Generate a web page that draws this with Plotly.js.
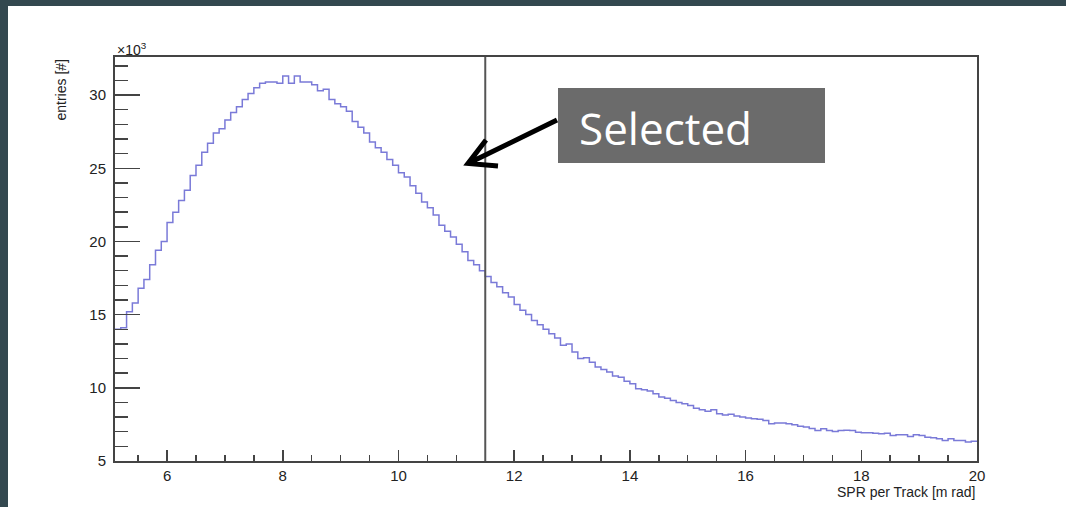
<!DOCTYPE html>
<html>
<head>
<meta charset="utf-8">
<script src="https://cdn.plot.ly/plotly-3.0.1.min.js"></script>
<style>
  html, body { margin: 0; padding: 0; background: #33484f; width: 1066px; height: 507px; overflow: hidden; }
  #chart { position: absolute; left: 8px; top: 6px; width: 1058px; height: 501px; }
</style>
</head>
<body>
<div id="chart"></div>
<script>
// Histogram definition: first bin low edge and bin width (SPR per Track, m rad)
const binLo = 5.1;
const binWidth = 0.1;
// Entries per bin, in units of 10^3
const entriesK = [
  14.0, 14.1, 15.2, 15.8, 16.8, 17.4, 18.4, 19.4, 20.0, 21.3,
  22.0, 22.8, 23.5, 24.5, 25.2, 26.1, 26.7, 27.4, 27.7, 28.3,
  28.8, 29.2, 29.7, 30.1, 30.5, 30.8, 30.9, 30.9, 30.8, 31.3,
  30.8, 31.3, 30.9, 30.9, 30.7, 30.3, 30.4, 29.7, 29.4, 29.2,
  28.9, 28.2, 27.8, 27.4, 26.8, 26.4, 26.1, 25.6, 25.2, 24.7,
  24.4, 23.8, 23.3, 22.7, 22.3, 21.8, 21.1, 20.7, 20.3, 19.8,
  19.3, 18.7, 18.4, 18.0, 17.6, 17.2, 16.9, 16.5, 16.2, 15.7,
  15.3, 15.0, 14.6, 14.3, 14.0, 13.7, 13.4, 12.9, 13.0, 12.45,
  12.0, 12.05, 11.75, 11.42, 11.25, 11.08, 10.8, 10.73, 10.45, 10.28,
  9.94, 9.87, 9.78, 9.6, 9.37, 9.28, 9.14, 9.0, 8.91, 8.8,
  8.6, 8.5, 8.4, 8.5, 8.23, 8.15, 8.2, 8.07, 8.0, 7.93,
  7.89, 7.85, 7.77, 7.55, 7.6, 7.6, 7.55, 7.47, 7.38, 7.32,
  7.22, 7.09, 7.2, 7.09, 7.02, 7.09, 7.1, 7.09, 6.97, 6.93,
  6.93, 6.9, 6.86, 6.9, 6.74, 6.8, 6.8, 6.67, 6.8, 6.74,
  6.63, 6.58, 6.52, 6.4, 6.52, 6.4, 6.4, 6.29, 6.35
];
// Selection cut on SPR per Track
const cutValue = 11.5;
// Axis ticks
const xTickVals = [6, 8, 10, 12, 14, 16, 18, 20];
const xTickText = ["6", "8", "10", "12", "14", "16", "18", "20"];
const yTickVals = [5, 10, 15, 20, 25, 30];
const yTickText = ["5", "10", "15", "20", "25", "30"];
const xTitle = "SPR per Track [m rad]";
const yTitle = "entries [#]";
const calloutText = "Selected";

// Build step outline from bin edges
const xs = [], ys = [];
for (let i = 0; i < entriesK.length; i++) {
  xs.push(+(binLo + i * binWidth).toFixed(4));
  ys.push(entriesK[i]);
}
xs.push(+(binLo + entriesK.length * binWidth).toFixed(4));
ys.push(entriesK[entriesK.length - 1]);

const axisColor = '#444';
const tickFont = { family: 'Liberation Sans, Arial, sans-serif', size: 15, color: '#222' };

// plot area in page px: x 115..977, y 57..461
const PX = p => (p - 115) / 862;
const PY = p => (461 - p) / 404;

const trace = {
  type: 'scatter', mode: 'lines',
  x: xs, y: ys,
  line: { shape: 'hv', color: 'rgb(122,122,216)', width: 1.5 },
  hoverinfo: 'x+y', showlegend: false
};

const arrowPath =
  'M' + PX(557) + ',' + PY(120) + ' L' + PX(468) + ',' + PY(163.5) +
  ' M' + PX(486) + ',' + PY(140) + ' L' + PX(468) + ',' + PY(163.5) +
  ' L' + PX(498) + ',' + PY(166);

const layout = {
  width: 1058, height: 501,
  margin: { l: 107, r: 89, t: 51, b: 46, pad: 0 },
  paper_bgcolor: '#ffffff', plot_bgcolor: '#ffffff',
  showlegend: false,
  xaxis: {
    range: [binLo, 20], showgrid: false, zeroline: false,
    showline: true, linecolor: axisColor, linewidth: 2, mirror: true,
    ticks: 'inside', ticklen: 11, tickwidth: 1.5, tickcolor: axisColor,
    tickvals: xTickVals, ticktext: xTickText, tickfont: tickFont,
    minor: { dtick: 0.5, tick0: 0, ticks: 'inside', ticklen: 6, tickwidth: 1.5, tickcolor: axisColor }
  },
  yaxis: {
    range: [5, 32.6], showgrid: false, zeroline: false,
    showline: true, linecolor: axisColor, linewidth: 2, mirror: true,
    ticks: 'inside', ticklen: 25, tickwidth: 1.5, tickcolor: axisColor,
    tickvals: yTickVals, ticktext: yTickText, tickfont: tickFont,
    ticklabelstandoff: 4,
    minor: { dtick: 1, tick0: 0, ticks: 'inside', ticklen: 13, tickwidth: 1.5, tickcolor: axisColor }
  },
  shapes: [
    { type: 'line', xref: 'x', yref: 'paper', x0: cutValue, x1: cutValue, y0: 0, y1: 1,
      line: { color: '#555', width: 2 } },
    { type: 'rect', xref: 'paper', yref: 'paper', x0: PX(558), x1: PX(825), y0: PY(163), y1: PY(88),
      fillcolor: '#6b6b6b', line: { width: 0 } },
    { type: 'path', xref: 'paper', yref: 'paper', path: arrowPath,
      line: { color: '#000', width: 5 } }
  ],
  annotations: [
    { xref: 'paper', yref: 'paper', x: PX(577), y: PY(128), xanchor: 'left', yanchor: 'middle',
      text: calloutText, showarrow: false,
      font: { family: 'Open Sans, Noto Sans, sans-serif', size: 44, color: '#ffffff' } },
    { xref: 'paper', yref: 'paper', x: 1, y: PY(492), xanchor: 'right', yanchor: 'middle',
      text: xTitle, showarrow: false, font: { family: 'Liberation Sans, Arial, sans-serif', size: 14, color: '#222' } },
    { xref: 'paper', yref: 'paper', x: PX(60), y: 1, xanchor: 'center', yanchor: 'top', textangle: -90,
      text: yTitle, showarrow: false, font: { family: 'Liberation Sans, Arial, sans-serif', size: 14, color: '#222' } },
    { xref: 'paper', yref: 'paper', x: 0, y: PY(49), xanchor: 'left', yanchor: 'middle',
      text: '×10<sup>3</sup>', showarrow: false, font: { family: 'Liberation Sans, Arial, sans-serif', size: 14, color: '#222' } }
  ]
};

Plotly.newPlot('chart', [trace], layout, { staticPlot: true, displayModeBar: false });
</script>
</body>
</html>
